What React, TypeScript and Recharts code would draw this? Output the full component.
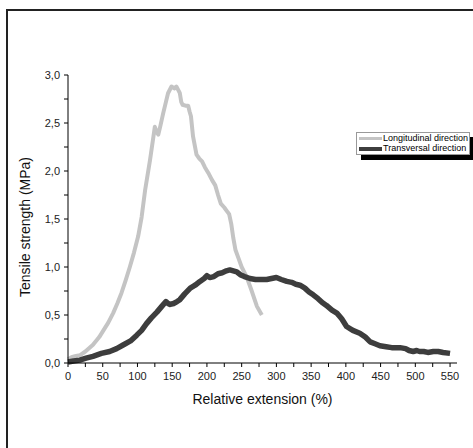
import { LineChart, Line, XAxis, YAxis, Legend, Label } from 'recharts'

// Longitudinal direction (light curve)
const longExt = [0, 5, 10, 17, 25, 36, 45, 51, 58, 65,
  71, 77, 83, 89, 95, 101, 106, 111, 118, 123,
  125, 128, 130, 133, 137, 141, 144, 149, 153, 156,
  159, 161, 163, 165, 169, 173, 175, 177, 180, 185,
  189, 193, 197, 202, 207, 212, 216, 220, 225, 229,
  232, 235, 238, 241, 245, 250, 257, 264, 272, 279]
const longStr = [0.04, 0.06, 0.07, 0.08, 0.12, 0.19, 0.27, 0.34, 0.42, 0.52,
  0.62, 0.73, 0.86, 1.0, 1.15, 1.32, 1.52, 1.8, 2.11, 2.36,
  2.46, 2.4, 2.38, 2.47, 2.6, 2.72, 2.81, 2.88, 2.86, 2.88,
  2.84, 2.81, 2.72, 2.69, 2.68, 2.68, 2.62, 2.57, 2.36, 2.17,
  2.13, 2.1, 2.04, 1.98, 1.91, 1.85, 1.75, 1.66, 1.62, 1.58,
  1.55, 1.45, 1.3, 1.18, 1.1, 1.0, 0.9, 0.76, 0.59, 0.5]

// Transversal direction (dark curve)
const transExt = [0, 8, 17, 26, 36, 48, 60, 70, 80, 90,
  99, 106, 113, 120, 128, 135, 141, 144, 147, 152,
  157, 161, 168, 176, 183, 190, 196, 200, 204, 210,
  216, 222, 228, 233, 238, 243, 248, 254, 262, 270,
  278, 286, 293, 300, 307, 315, 322, 328, 334, 341,
  347, 353, 360, 366, 372, 380, 387, 394, 401, 410,
  420, 428, 435, 442, 449, 458, 466, 472, 478, 486,
  491, 497, 502, 506, 512, 518, 526, 533, 540, 550]
const transStr = [0.01, 0.02, 0.03, 0.05, 0.07, 0.1, 0.12, 0.15, 0.19, 0.23,
  0.29, 0.34, 0.41, 0.47, 0.53, 0.59, 0.64, 0.62, 0.61, 0.62,
  0.64, 0.66, 0.72, 0.78, 0.81, 0.85, 0.88, 0.91, 0.89, 0.9,
  0.93, 0.94, 0.96, 0.97, 0.96, 0.95, 0.92, 0.9, 0.88, 0.87,
  0.87, 0.87, 0.88, 0.89, 0.87, 0.85, 0.84, 0.82, 0.81, 0.78,
  0.74, 0.71, 0.67, 0.63, 0.6, 0.55, 0.52, 0.46, 0.38, 0.34,
  0.31, 0.27, 0.22, 0.2, 0.18, 0.17, 0.16, 0.16, 0.16, 0.15,
  0.13, 0.12, 0.13, 0.12, 0.12, 0.11, 0.12, 0.12, 0.11, 0.1]

const xTicks = [0, 25, 50, 75, 100, 125, 150, 175, 200, 225, 250, 275,
  300, 325, 350, 375, 400, 425, 450, 475, 500, 525, 550]
const yTicks = [0, 0.25, 0.5, 0.75, 1, 1.25, 1.5, 1.75, 2, 2.25, 2.5, 2.75, 3]

const seriesNames = ['Longitudinal direction', 'Transversal direction']
const seriesColors = ['#c4c4c4', '#3d3d3d']

const longData = longExt.map((x, i) => ({ x, y: longStr[i] }))
const transData = transExt.map((x, i) => ({ x, y: transStr[i] }))

const font = '"Liberation Sans", Arial, sans-serif'

const LegendBox = () => (
  <div style={{
    position: 'absolute', left: 356, top: 132, width: 112, height: 21,
    background: '#fff', border: '1px solid #999', boxShadow: '5px 5px 0 #000',
    fontFamily: font, fontSize: 9, color: '#000', lineHeight: '11px',
  }}>
    {seriesNames.map((n, i) => (
      <div key={n} style={{ display: 'flex', alignItems: 'center', height: 10.5 }}>
        <span style={{ display: 'inline-block', width: 23, height: i === 0 ? 3 : 4, background: seriesColors[i], marginLeft: 2, marginRight: 1 }} />
        <span>{n}</span>
      </div>
    ))}
  </div>
)

export default function App() {
  return (
    <div style={{ position: 'absolute', left: 0, top: 0, width: 473, height: 448, background: '#fff' }}>
      <div style={{ position: 'absolute', left: 6, top: 9, width: 467, height: 439, borderTop: '2px solid #222', borderLeft: '2px solid #222' }} />
      <LineChart width={473} height={448} margin={{ top: 75, right: 16, bottom: 55, left: 28 }} style={{ position: 'absolute', left: 0, top: 0 }}>
        <XAxis
          type="number"
          dataKey="x"
          domain={[0, 560]}
          ticks={xTicks}
          interval={0}
          height={30}
          tickSize={4}
          tickMargin={5}
          stroke="#000"
          tick={{ fill: '#222', fontSize: 11, fontFamily: font }}
          tickFormatter={(v: number) => (v % 50 === 0 ? String(v) : '')}
        >
          <Label value="Relative extension (%)" position="bottom" offset={1} style={{ fontSize: 14, fontFamily: font, fill: '#111' }} />
        </XAxis>
        <YAxis
          type="number"
          dataKey="y"
          domain={[0, 3]}
          ticks={yTicks}
          interval={0}
          width={40}
          tickSize={4}
          tickMargin={4}
          stroke="#000"
          tick={{ fill: '#222', fontSize: 11, fontFamily: font }}
          tickFormatter={(v: number) => (Math.abs(v * 2 - Math.round(v * 2)) < 1e-6 ? v.toFixed(1).replace('.', ',') : '')}
        >
          <Label
            content={() => (
              <text x={25} y={227} transform="rotate(-90 25 227)" textAnchor="middle" dominantBaseline="central" style={{ fontSize: 14, fontFamily: font, fill: '#111' }}>
                Tensile strength (MPa)
              </text>
            )}
          />
        </YAxis>
        <Line data={longData} dataKey="y" name={seriesNames[0]} type="linear" stroke={seriesColors[0]} strokeWidth={4} dot={false} isAnimationActive={false} strokeLinejoin="round" />
        <Line data={transData} dataKey="y" name={seriesNames[1]} type="linear" stroke={seriesColors[1]} strokeWidth={5.5} dot={false} isAnimationActive={false} strokeLinejoin="round" />
        <Legend content={() => null} />
      </LineChart>
      <LegendBox />
    </div>
  )
}
